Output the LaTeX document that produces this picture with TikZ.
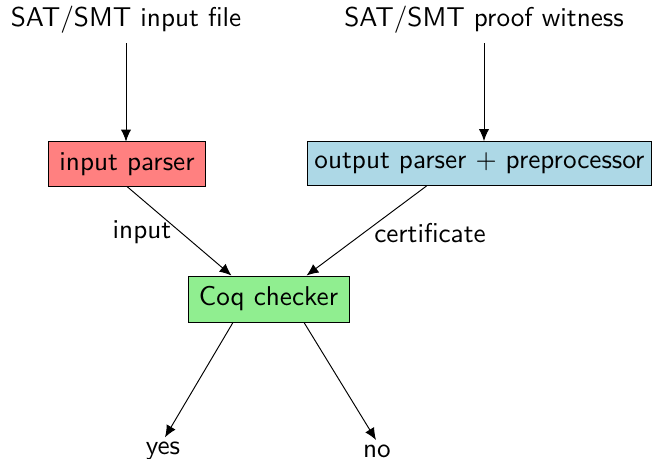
\documentclass[tikz,border=0pt]{standalone}
\usetikzlibrary{arrows.meta,calc}
\definecolor{redbox}{HTML}{FF8080}
\definecolor{bluebox}{HTML}{ADD8E6}
\definecolor{greenbox}{HTML}{90EE90}
\begin{document}
\begin{tikzpicture}[x=0.3676pt,y=-0.3676pt,font=\sffamily,
  procbox/.style={draw,line width=0.35pt,inner xsep=2pt,minimum height=16.2pt},
  arr/.style={line width=0.35pt,-{Latex[length=4.4pt,width=3.8pt]}},
  lbl/.style={inner sep=1pt}]
\useasboundingbox (0,0) rectangle (653,459);
\node (in) at (126,20) {SAT/SMT input file};
\node (pw) at (484,20) {SAT/SMT proof witness};
\node[procbox,fill=redbox,minimum width=58pt] (ip) at (127,164) {input parser};
\node[procbox,fill=bluebox,minimum width=126.8pt] (op) at (479.5,163.5) {output parser $+$ preprocessor};
\node[procbox,fill=greenbox,minimum width=59.2pt,minimum height=16.9pt] (coq) at (268.5,299) {Coq checker};
\node (yes) at (163,451) {yes};
\node (no) at (377,451) {no};
\node[lbl] (lin) at (142,232) {input};
\node[lbl] (lcert) at (430,233) {certificate};
\draw[arr] (in.south) -- (in.south |- ip.north);
\draw[arr] (pw.south) -- (pw.south |- op.north);
\draw[arr] (ip.south) -- ($(coq.north)+(-37,0)$);
\draw[arr] ($(op.south)+(-53,0)$) -- ($(coq.north)+(38,0)$);
\draw[arr] ($(coq.south)+(-35.5,0)$) -- ($(yes.north)+(2,5)$);
\draw[arr] ($(coq.south)+(35.5,0)$) -- ($(no.north)+(-1,5)$);
\end{tikzpicture}
\end{document}
